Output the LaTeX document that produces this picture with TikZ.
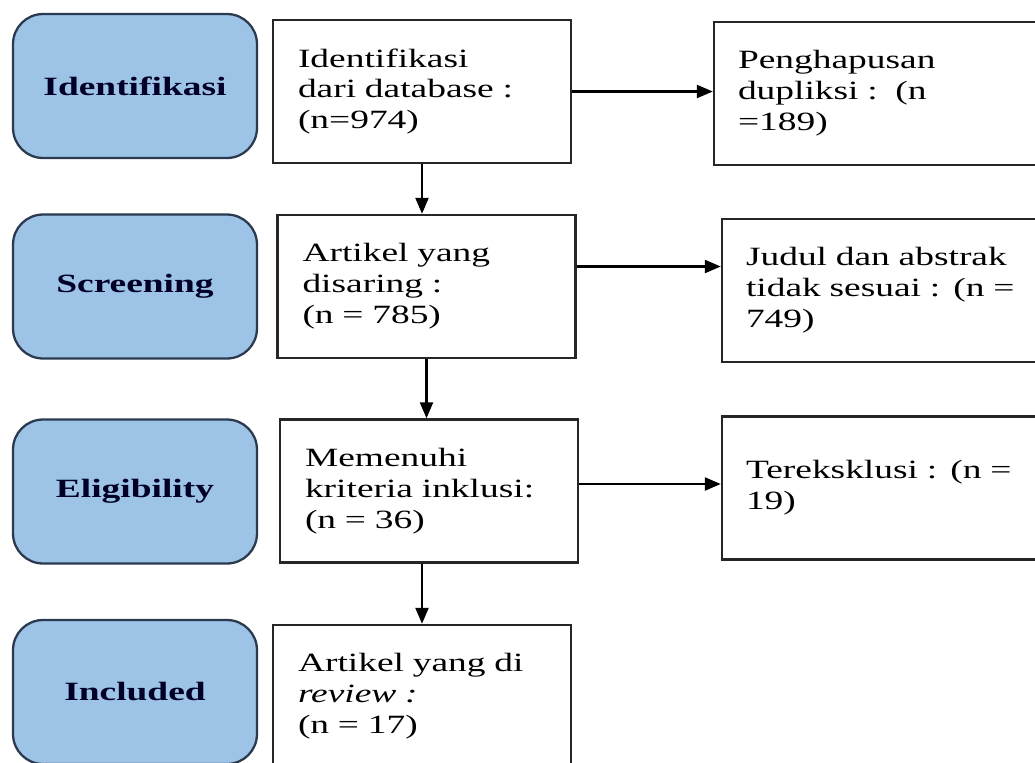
\documentclass[tikz,border=0pt]{standalone}
\usepackage{fontspec}
\setmainfont{Liberation Serif}[FakeStretch=1.42]
\usetikzlibrary{arrows.meta,positioning}

\definecolor{phasefill}{HTML}{9DC3E6}
\definecolor{phaseline}{HTML}{2B3A4F}
\newcommand{\boxfont}{\fontsize{15}{17.6}\selectfont}

\tikzset{
  phase/.style={draw=phaseline, line width=1.3pt, fill=phasefill, rounded corners=0.6cm,
    minimum width=4.88cm, minimum height=2.88cm, font=\boxfont\bfseries, text=black!85!blue},
  stepbox/.style={draw, line width=1.4pt, draw=black!85, minimum height=2.86cm, text width=4.96cm,
    inner xsep=0.5cm, align=left, font=\boxfont},
  outbox/.style={draw, line width=1.4pt, draw=black!85, minimum height=2.86cm, text width=5.64cm,
    inner xsep=0.48cm, align=left, font=\boxfont},
  flow/.style={line width=1.3pt, -{Triangle[length=0.32cm,width=0.26cm]}}
}

\begin{document}
\begin{tikzpicture}[x=0.02cm, y=-0.02cm]
        \useasboundingbox (0,0) rectangle (1035,762);
        % fase di kiri
        \node[phase] (identifikasi) at (135,86) {Identifikasi};
        \node[phase] (screening) at (135,286.5) {Screening};
        \node[phase] (eligibility) at (135,491.5) {Eligibility};
        \node[phase] (included) at (135,692) {Included};
        % alur tengah
        \node[stepbox] (dbase) at (422,91.5) {Identifikasi\\dari database :\\(n=974)};
        \node[stepbox] (saring) at (426.5,286.5) {Artikel yang\\disaring :\\(n = 785)};
        \node[stepbox] (inklusi) at (429,491) {Memenuhi\\kriteria inklusi:\\(n = 36)};
        \node[stepbox] (review) at (422,696.5) {Artikel yang di\\\textit{review :}\\(n = 17)};
        % yang dikeluarkan
        \node[outbox] (duplikasi) at (879,93.5) {Penghapusan\\dupliksi :\ \ (n\\=189)};
        \node[outbox] (judul) at (887,290.5) {Judul dan abstrak\\tidak sesuai : (n =\\749)};
        \node[outbox] (eksklusi) at (887,488) {Tereksklusi : (n =\\19)};
        % panah
        \draw[flow] (dbase.south) -- (dbase.south |- saring.north);
        \draw[flow] (saring.south) -- (saring.south |- inklusi.north);
        \draw[flow] (review.north |- inklusi.south) -- (review.north);
        \draw[flow] (dbase.east) -- (dbase.east -| duplikasi.west);
        \draw[flow] ([yshift=0.4cm]saring.east) -- ([yshift=0.4cm]saring.east -| judul.west);
        \draw[flow] ([yshift=0.14cm]inklusi.east) -- ([yshift=0.14cm]inklusi.east -| eksklusi.west);
\end{tikzpicture}
\end{document}
